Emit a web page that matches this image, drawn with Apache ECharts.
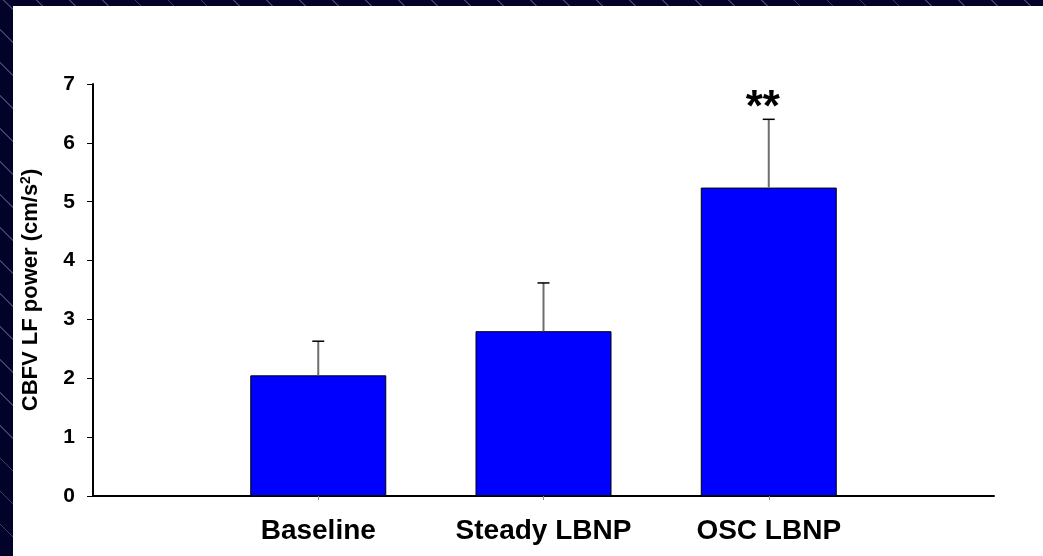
<!DOCTYPE html>
<html>
<head>
<meta charset="utf-8">
<script src="https://cdn.jsdelivr.net/npm/echarts@6/dist/echarts.min.js"></script>
<style>
  html, body { margin: 0; padding: 0; width: 1043px; height: 556px; overflow: hidden; }
  body {
    background-color: #03032a;
    background-image: repeating-linear-gradient(45deg, rgba(0,0,0,0) 0px, rgba(0,0,0,0) 22px, rgba(150,150,210,0.4) 22px, rgba(150,150,210,0.4) 23.3px);
    position: relative;
  }
  #panel { position: absolute; left: 13px; top: 6px; right: 0; bottom: 0; background: #fff; }
  #chart { position: absolute; left: 0; top: 0; width: 1043px; height: 556px; }
</style>
</head>
<body>
<div id="panel"></div>
<div id="chart"></div>
<script>
// ---- data ----
const categories = ['Baseline', 'Steady LBNP', 'OSC LBNP'];
const means = [2.05, 2.80, 5.24];
const errors = [0.58, 0.82, 1.16];
const sigMarks = ['', '', '**'];
const yTicks = [0, 1, 2, 3, 4, 5, 6, 7];

// ---- build ----
const axisCats = [''].concat(categories, ['']);
const barData = [null].concat(means, [null]);
const errData = categories.map((c, i) => [i + 1, means[i], errors[i], sigMarks[i]]);

const font = "'Liberation Sans', Arial, sans-serif";
const chart = echarts.init(document.getElementById('chart'), null, { renderer: 'canvas' });

chart.setOption({
  backgroundColor: 'transparent',
  animation: false,
  grid: { left: 93, right: 49, top: 84, bottom: 60, containLabel: false },
  xAxis: {
    type: 'category',
    data: axisCats,
    boundaryGap: false,
    axisLine: { show: true, lineStyle: { color: '#000', width: 2 } },
    axisTick: {
      show: true, length: 4, interval: (i) => i >= 1 && i <= categories.length,
      lineStyle: { color: '#888', width: 1 }
    },
    axisLabel: {
      interval: 0, margin: 21, color: '#000',
      fontFamily: font, fontWeight: 'bold', fontSize: 28
    },
    splitLine: { show: false }
  },
  yAxis: {
    type: 'value',
    min: yTicks[0], max: yTicks[yTicks.length - 1], interval: 1,
    axisLine: { show: true, lineStyle: { color: '#000', width: 2 } },
    axisTick: { show: true, length: 6, inside: false, lineStyle: { color: '#000', width: 1 } },
    axisLabel: { margin: 18, color: '#000', fontFamily: font, fontWeight: 'bold', fontSize: 21 },
    splitLine: { show: false },
    name: 'CBFV LF power (cm/s{sup|2})',
    nameLocation: 'middle',
    nameGap: 50,
    nameRotate: 90,
    nameTextStyle: {
      color: '#000', fontFamily: font, fontWeight: 'bold', fontSize: 22,
      rich: { sup: { fontSize: 14, fontWeight: 'bold', fontFamily: font, color: '#000', verticalAlign: 'top', padding: [0, 0, 10, 0] } }
    }
  },
  series: [
    {
      type: 'bar',
      data: barData,
      barWidth: 136,
      itemStyle: { color: '#0000ff', borderColor: '#000', borderWidth: 1 }
    },
    {
      type: 'custom',
      data: errData,
      z: 5,
      renderItem: function (params, api) {
        const x = api.value(0);
        const m = api.value(1);
        const e = api.value(2);
        const mark = errData[params.dataIndex][3];
        const p0 = api.coord([x, m]);
        const p1 = api.coord([x, m + e]);
        const children = [
          { type: 'line', shape: { x1: p0[0], y1: p0[1], x2: p1[0], y2: p1[1] }, style: { stroke: '#6e6e6e', lineWidth: 2 } },
          { type: 'line', shape: { x1: p1[0] - 6, y1: p1[1], x2: p1[0] + 6, y2: p1[1] }, style: { stroke: '#000', lineWidth: 1.5 } }
        ];
        if (mark) {
          children.push({
            type: 'text',
            x: p1[0] - 6, y: p1[1] + 12,
            style: {
              text: mark, fill: '#000', font: 'bold 44px ' + font,
              align: 'center', verticalAlign: 'bottom',
              shadowColor: 'rgba(0,0,0,0.45)', shadowBlur: 3, shadowOffsetX: 2, shadowOffsetY: 2
            }
          });
        }
        return { type: 'group', children: children };
      }
    }
  ]
});
</script>
</body>
</html>
